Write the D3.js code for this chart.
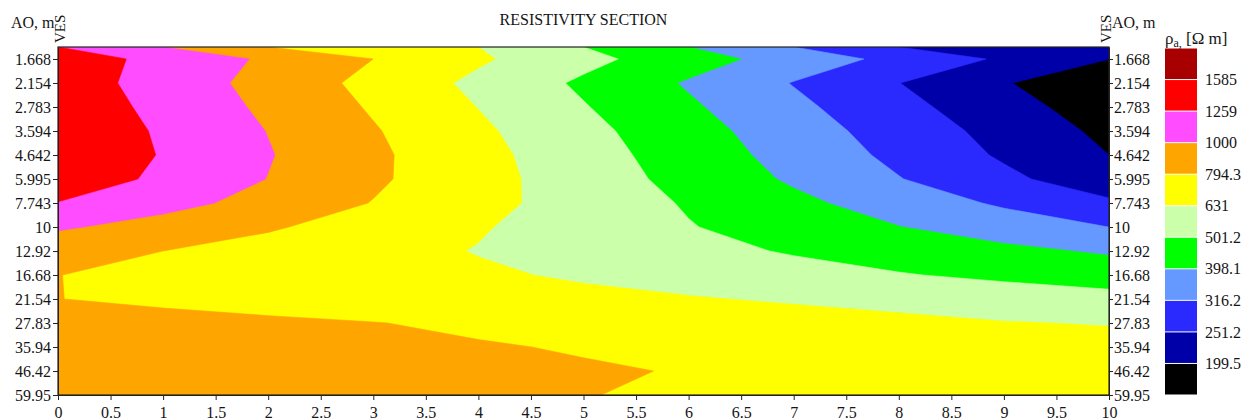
<!DOCTYPE html>
<html>
<head>
<meta charset="utf-8">
<script src="https://cdn.jsdelivr.net/npm/d3@7"></script>
<style>
  body { margin: 0; background: #fff; }
  svg text { font-family: "Liberation Serif", "Times New Roman", serif; fill: #151515; }
</style>
</head>
<body>
<svg id="chart" width="1247" height="420"></svg>
<script>
// VES stations along the profile (x) and AO spacings (rows)
const vesPositions = [0, 1, 2, 3, 4, 5, 6, 7, 8, 9, 10];
const aoDepths = [1.668, 2.154, 2.783, 3.594, 4.642, 5.995, 7.743, 10, 12.92, 16.68, 21.54, 27.83, 35.94, 46.42, 59.95];
const xTicks = [0, 0.5, 1, 1.5, 2, 2.5, 3, 3.5, 4, 4.5, 5, 5.5, 6, 6.5, 7, 7.5, 8, 8.5, 9, 9.5, 10];

// legend class limits, Ohm.m
const levels = [199.5, 251.2, 316.2, 398.1, 501.2, 631, 794.3, 1000, 1259, 1585];
const bandColors = ["#000000", "#0000a8", "#2a2aff", "#6699ff", "#00ff00", "#ccffaa",
                    "#ffff00", "#ffa500", "#ff4cff", "#ff0000", "#a80000"];

// apparent resistivity, one row per AO spacing, one column per VES
const rhoGrid = [
  [1431, 1175, 965, 794, 651, 535, 439, 361, 296, 243, 200],    // 1.668
  [1423, 1147, 924, 744, 599, 483, 389, 313, 252, 203, 164],    // 2.154
  [1463, 1184, 958, 776, 628, 508, 411, 333, 269, 218, 177],    // 2.783
  [1505, 1223, 994, 808, 656, 534, 434, 352, 286, 233, 189],    // 3.594
  [1520, 1241, 1013, 827, 675, 551, 450, 367, 300, 244, 199.5], // 4.642
  [1454, 1203, 995, 823, 681, 564, 466, 386, 319, 264, 218],    // 5.995
  [1250, 1080, 923, 788, 673, 575, 491, 419, 358, 306, 261],    // 7.743
  [1029, 914, 813, 722, 642, 570, 507, 451, 400, 356, 316],     // 10
  [860, 794, 733, 677, 625, 577, 533, 492, 454, 419, 387],      // 12.92
  [796, 757, 719, 683, 650, 614, 577, 541, 508, 479, 452],      // 16.68
  [796, 768, 741, 714, 689, 664, 641, 615, 588, 563, 538],      // 21.54
  [861, 840, 819, 798, 771, 743, 716, 690, 665, 637, 624],      // 27.83
  [891, 869, 847, 826, 805, 784, 761, 739, 718, 697, 676],      // 35.94
  [902, 882, 863, 844, 825, 807, 788, 765, 743, 721, 700],      // 46.42
  [912, 888, 864, 841, 819, 797, 781, 766, 752, 738, 724]       // 59.95
];

const plotL = 58, plotR = 1109, plotT = 47, plotB = 395;

const svg = d3.select("#chart");

const xScale = d3.scaleLinear()
    .domain([0, 10])
    .range([plotL, plotR]);

// rows are evenly spaced in log(AO); the frame starts half a row above the first one
const ratio = aoDepths[1] / aoDepths[0];
const yScale = d3.scaleLog()
    .domain([aoDepths[0] / Math.sqrt(ratio), aoDepths[aoDepths.length - 1]])
    .range([plotT, plotB]);

// contour the log of resistivity so the bands follow the legend's log steps
const nx = vesPositions.length, ny = aoDepths.length;
const logValues = [];
rhoGrid.forEach(row => row.forEach(v => logValues.push(Math.log10(v))));

const contours = d3.contours()
    .size([nx, ny])
    .thresholds(levels.map(Math.log10))(logValues);

// grid cell centres sit at i + 0.5 in contour space
const gx = d3.scaleLinear().domain([0.5, nx - 0.5])
    .range([xScale(vesPositions[0]), xScale(vesPositions[nx - 1])]);
const gy = d3.scaleLinear().domain([0.5, ny - 0.5])
    .range([yScale(aoDepths[0]), yScale(aoDepths[ny - 1])]);

const toScreen = d3.geoTransform({
    point: function(px, py) { this.stream.point(gx(px), gy(py)); }
});
const path = d3.geoPath(toScreen);

svg.append("clipPath").attr("id", "plotClip")
  .append("rect")
    .attr("x", plotL).attr("y", plotT)
    .attr("width", plotR - plotL).attr("height", plotB - plotT);

const plot = svg.append("g").attr("clip-path", "url(#plotClip)");

plot.append("rect")
    .attr("x", plotL).attr("y", plotT)
    .attr("width", plotR - plotL).attr("height", plotB - plotT)
    .attr("fill", bandColors[0]);

plot.selectAll("path")
  .data(contours)
  .join("path")
    .attr("d", path)
    .attr("fill", (d, i) => bandColors[i + 1])
    .attr("stroke", (d, i) => bandColors[i + 1])
    .attr("stroke-width", 0.6);

// frame
svg.append("rect")
    .attr("x", plotL).attr("y", plotT)
    .attr("width", plotR - plotL).attr("height", plotB - plotT)
    .attr("fill", "none")
    .attr("stroke", "#222")
    .attr("stroke-width", 1.2);

// axes
const fmt = d => String(d);

const leftAxis = svg.append("g")
    .attr("transform", "translate(" + plotL + ",0)")
    .call(d3.axisLeft(yScale).tickValues(aoDepths).tickFormat(fmt).tickSize(5).tickPadding(2).tickSizeOuter(0));

const rightAxis = svg.append("g")
    .attr("transform", "translate(" + plotR + ",0)")
    .call(d3.axisRight(yScale).tickValues(aoDepths).tickFormat(fmt).tickSize(4).tickPadding(1).tickSizeOuter(0));

const bottomAxis = svg.append("g")
    .attr("transform", "translate(0," + plotB + ")")
    .call(d3.axisBottom(xScale).tickValues(xTicks).tickFormat(fmt).tickSize(5).tickPadding(7).tickSizeOuter(0));

[leftAxis, rightAxis, bottomAxis].forEach(g => {
    g.selectAll(".domain").attr("stroke", "#222");
    g.selectAll(".tick line").attr("stroke", "#222");
    g.selectAll("text")
        .attr("font-family", "Liberation Serif, Times New Roman, serif")
        .attr("font-size", 16)
        .attr("fill", "#151515");
});

// titles
svg.append("text")
    .attr("x", (plotL + plotR) / 2)
    .attr("y", 25)
    .attr("text-anchor", "middle")
    .attr("font-size", 16)
    .text("RESISTIVITY SECTION");

svg.append("text")
    .attr("x", 11).attr("y", 28)
    .attr("font-size", 16)
    .text("AO, m");

svg.append("text")
    .attr("transform", "translate(65,43) rotate(-90)")
    .attr("font-size", 15)
    .text("VES");

svg.append("text")
    .attr("transform", "translate(1111,43) rotate(-90)")
    .attr("font-size", 15)
    .text("VES");

svg.append("text")
    .attr("x", 1112).attr("y", 28)
    .attr("font-size", 16)
    .text("AO, m");

// legend
const legendX = 1165, legendW = 32;
const legendY = d3.scaleLinear().domain([0, bandColors.length]).range([48, 395]);
const legendColors = bandColors.slice().reverse();

const legend = svg.append("g");

legend.selectAll("rect")
  .data(legendColors)
  .join("rect")
    .attr("x", legendX)
    .attr("y", (d, i) => legendY(i) + 0.5)
    .attr("width", legendW)
    .attr("height", (d, i) => legendY(i + 1) - legendY(i) - 1)
    .attr("fill", d => d);

legend.selectAll("text.lvl")
  .data(levels.slice().reverse())
  .join("text")
    .attr("class", "lvl")
    .attr("x", legendX + legendW + 8)
    .attr("y", (d, i) => legendY(i + 1))
    .attr("dy", "0.35em")
    .attr("font-size", 16)
    .text(d => String(d));

const legendTitle = legend.append("text")
    .attr("x", legendX)
    .attr("y", 44)
    .attr("font-size", 17);
legendTitle.append("tspan").text("ρ");
legendTitle.append("tspan").attr("font-size", 12).attr("dy", 3).text("a,");
legendTitle.append("tspan").attr("dy", -3).text(" [Ω m]");
</script>
</body>
</html>
